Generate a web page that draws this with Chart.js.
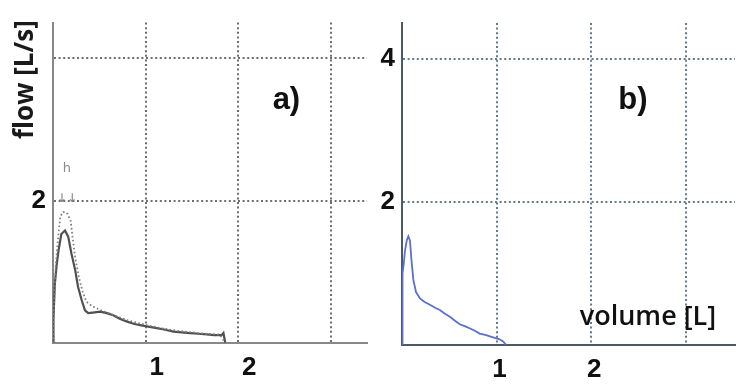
<!DOCTYPE html>
<html>
<head>
<meta charset="utf-8">
<script src="https://cdn.jsdelivr.net/npm/chart.js@4"></script>
<style>
  html, body { margin: 0; padding: 0; background: #fff; width: 745px; height: 389px; overflow: hidden; }
  #chartA { position: absolute; left: 0; top: 0; }
  #chartB { position: absolute; left: 366px; top: 0; }
</style>
</head>
<body>
<canvas id="chartA" width="370" height="389"></canvas>
<canvas id="chartB" width="379" height="389"></canvas>
<script>
// panel a) - solid trace
const volA = [0, 0.005, 0.02, 0.04, 0.06, 0.09, 0.13, 0.165, 0.2, 0.24, 0.27, 0.31, 0.345, 0.38, 0.45, 0.51, 0.58, 0.65, 0.72, 0.8, 0.87, 0.94, 1.03, 1.12, 1.2, 1.3, 1.39, 1.48, 1.57, 1.66, 1.74, 1.82, 1.84, 1.86];
const flowA = [0, 0.35, 0.83, 1.1, 1.3, 1.53, 1.58, 1.49, 1.25, 1.02, 0.79, 0.6, 0.46, 0.42, 0.43, 0.44, 0.42, 0.39, 0.34, 0.3, 0.27, 0.25, 0.23, 0.21, 0.19, 0.16, 0.15, 0.14, 0.13, 0.12, 0.11, 0.11, 0.14, 0];
// panel a) - dotted trace
const volA2 = [0, 0.01, 0.03, 0.06, 0.08, 0.11, 0.15, 0.19, 0.21, 0.24, 0.28, 0.32, 0.36, 0.42, 0.5, 0.6, 0.7, 0.8, 0.92, 1.05, 1.2, 1.35, 1.5, 1.65, 1.8, 1.86];
const flowA2 = [0, 0.5, 1.1, 1.55, 1.78, 1.84, 1.83, 1.72, 1.5, 1.2, 0.92, 0.72, 0.58, 0.52, 0.47, 0.42, 0.37, 0.32, 0.28, 0.24, 0.2, 0.17, 0.15, 0.13, 0.12, 0];
// panel b)
const volB = [0, 0.003, 0.008, 0.02, 0.03, 0.05, 0.067, 0.084, 0.1, 0.12, 0.148, 0.19, 0.24, 0.3, 0.35, 0.4, 0.45, 0.51, 0.56, 0.61, 0.67, 0.72, 0.77, 0.82, 0.88, 0.93, 0.98, 1.03, 1.07, 1.1];
const flowB = [0, 0.5, 1.0, 1.15, 1.3, 1.46, 1.52, 1.46, 1.19, 0.91, 0.74, 0.65, 0.6, 0.56, 0.52, 0.49, 0.44, 0.39, 0.34, 0.29, 0.26, 0.23, 0.2, 0.16, 0.14, 0.12, 0.1, 0.08, 0.05, 0];

const xTicks = [1, 2, 3];
const xLabels = ['1', '2', ''];
const yTicks = [2, 4];
const yLabelsA = ['2', ''];
const yLabelsB = ['2', '4'];

const toPoints = (xs, ys) => xs.map((v, i) => ({ x: v, y: ys[i] }));

// draws free text at data coordinates
const panelText = {
  id: 'panelText',
  afterDraw(chart, args, opts) {
    const { ctx, scales: { x, y } } = chart;
    ctx.save();
    opts.items.forEach(t => {
      ctx.font = t.font;
      ctx.fillStyle = t.color || '#111';
      ctx.textAlign = 'center';
      ctx.textBaseline = 'middle';
      const px = x.getPixelForValue(t.x);
      const py = y.getPixelForValue(t.y);
      ctx.translate(px, py);
      if (t.rotate) ctx.rotate(-Math.PI / 2);
      ctx.fillText(t.text, 0, 0);
      ctx.setTransform(1, 0, 0, 1, 0, 0);
    });
    ctx.restore();
  }
};

function makeOptions(p) {
  return {
    responsive: false,
    animation: false,
    layout: { padding: { top: p.top, right: p.right, left: 0, bottom: 0 } },
    plugins: {
      legend: { display: false },
      tooltip: { enabled: false },
      panelText: { items: p.texts }
    },
    scales: {
      x: {
        type: 'linear', min: 0, max: p.xMax,
        afterFit: s => { s.height = p.xH; },
        afterBuildTicks: s => { s.ticks = xTicks.map(v => ({ value: v })); },
        grid: { color: p.gridColor, lineWidth: 2, drawTicks: false },
        border: { display: true, color: p.axisColor, width: 2, dash: [2, 2.6] },
        ticks: {
          color: '#111', padding: 9, labelOffset: p.labelOffset,
          font: { family: 'Liberation Sans', weight: 'bold', size: 26 },
          callback: (v, i) => xLabels[i]
        }
      },
      y: {
        type: 'linear', min: 0, max: 4.5,
        afterFit: s => { s.width = p.yW; },
        afterBuildTicks: s => { s.ticks = yTicks.map(v => ({ value: v })); },
        grid: { color: p.gridColor, lineWidth: 2, drawTicks: false },
        border: { display: true, color: p.axisColor, width: 2, dash: [2, 2.6] },
        ticks: {
          color: '#111', padding: 7,
          font: { family: 'Liberation Sans', weight: 'bold', size: 26 },
          callback: (v, i) => p.yLabels[i]
        }
      }
    }
  };
}

new Chart(document.getElementById('chartA'), {
  type: 'line',
  data: {
    datasets: [
      { data: toPoints(volA2, flowA2), borderColor: '#808080', borderWidth: 1.8, borderDash: [1.6, 2.4], pointRadius: 0, tension: 0 },
      { data: toPoints(volA, flowA), borderColor: '#505050', borderWidth: 2.2, pointRadius: 0, tension: 0 }
    ]
  },
  options: makeOptions({
    top: 21, right: 3, xH: 46, yW: 53, xMax: 3.39, labelOffset: 11,
    gridColor: '#6e6e6e', axisColor: '#888888', yLabels: yLabelsA,
    texts: [
      { text: 'flow [L/s]', x: -0.3, y: 3.7, rotate: true, font: 'bold 26px "Open Sans"', color: '#1a1a1a' },
      { text: 'a)', x: 2.52, y: 3.4, font: 'bold 31px "Liberation Sans"', color: '#111' },
      { text: 'h', x: 0.15, y: 2.45, font: '13px "DejaVu Sans"', color: '#8a8a8a' },
      { text: '↓↓', x: 0.15, y: 2.03, font: '12px "DejaVu Sans"', color: '#777' }
    ]
  }),
  plugins: [panelText]
});

new Chart(document.getElementById('chartB'), {
  type: 'line',
  data: {
    datasets: [
      { data: toPoints(volB, flowB), borderColor: '#5a70d2', borderWidth: 1.8, pointRadius: 0, tension: 0 }
    ]
  },
  options: makeOptions({
    top: 23, right: 10, xH: 44, yW: 36, xMax: 3.52, labelOffset: 3,
    gridColor: '#627a8e', axisColor: '#4d5a66', yLabels: yLabelsB,
    texts: [
      { text: 'b)', x: 2.44, y: 3.42, font: 'bold 31px "Liberation Sans"', color: '#111' },
      { text: 'volume [L]', x: 2.6, y: 0.38, font: '600 27px "Open Sans"', color: '#111' }
    ]
  }),
  plugins: [panelText]
});
</script>
</body>
</html>
